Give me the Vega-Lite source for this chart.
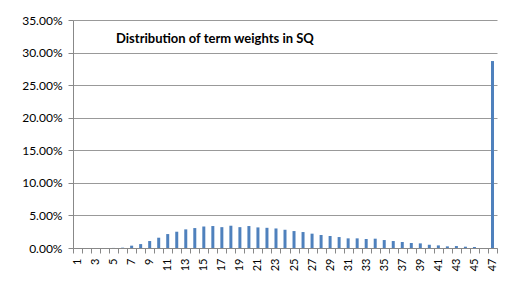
{
  "$schema": "https://vega.github.io/schema/vega-lite/v6.json",
  "width": 424,
  "height": 228,
  "autosize": {"type": "none"},
  "padding": {"left": 73, "top": 20, "right": 9, "bottom": 44},
  "background": "white",
  "title": {
    "text": "Distribution of term weights in SQ",
    "anchor": "start",
    "orient": "top",
    "frame": "group",
    "dx": 43,
    "offset": -32,
    "font": "Lato",
    "fontSize": 13,
    "fontWeight": "bold",
    "color": "#000000"
  },
  "data": {
    "values": [
      {"k": 1, "v": 0.0},
      {"k": 2, "v": 0.0},
      {"k": 3, "v": 0.0},
      {"k": 4, "v": 0.0},
      {"k": 5, "v": 0.0001},
      {"k": 6, "v": 0.0005},
      {"k": 7, "v": 0.0036},
      {"k": 8, "v": 0.006},
      {"k": 9, "v": 0.0107},
      {"k": 10, "v": 0.0158},
      {"k": 11, "v": 0.0214},
      {"k": 12, "v": 0.025},
      {"k": 13, "v": 0.0286},
      {"k": 14, "v": 0.0306},
      {"k": 15, "v": 0.033},
      {"k": 16, "v": 0.0337},
      {"k": 17, "v": 0.032},
      {"k": 18, "v": 0.0342},
      {"k": 19, "v": 0.032},
      {"k": 20, "v": 0.0337},
      {"k": 21, "v": 0.0316},
      {"k": 22, "v": 0.031},
      {"k": 23, "v": 0.03},
      {"k": 24, "v": 0.028},
      {"k": 25, "v": 0.026},
      {"k": 26, "v": 0.0245},
      {"k": 27, "v": 0.022},
      {"k": 28, "v": 0.02},
      {"k": 29, "v": 0.0184},
      {"k": 30, "v": 0.0168},
      {"k": 31, "v": 0.0148},
      {"k": 32, "v": 0.0148},
      {"k": 33, "v": 0.0138},
      {"k": 34, "v": 0.0143},
      {"k": 35, "v": 0.0122},
      {"k": 36, "v": 0.0107},
      {"k": 37, "v": 0.0092},
      {"k": 38, "v": 0.0077},
      {"k": 39, "v": 0.0071},
      {"k": 40, "v": 0.005},
      {"k": 41, "v": 0.004},
      {"k": 42, "v": 0.0025},
      {"k": 43, "v": 0.003},
      {"k": 44, "v": 0.002},
      {"k": 45, "v": 0.0015},
      {"k": 46, "v": 0.0},
      {"k": 47, "v": 0.287}
    ]
  },
  "mark": {"type": "bar", "color": "#4F81BD", "size": 3},
  "encoding": {
    "x": {
      "field": "k",
      "type": "ordinal",
      "sort": null,
      "title": null,
      "scale": {"paddingInner": 0, "paddingOuter": 0},
      "axis": {
        "tickBand": "extent",
        "labelAngle": -90,
        "labelOverlap": false,
        "labelExpr": "datum.value % 2 == 1 ? datum.label : ''",
        "labelFont": "Lato",
        "labelFontSize": 11,
        "labelColor": "#000000",
        "labelPadding": 5,
        "domainColor": "#888888",
        "tickColor": "#888888",
        "tickSize": 5,
        "grid": false
      }
    },
    "y": {
      "field": "v",
      "type": "quantitative",
      "title": null,
      "scale": {"domain": [0, 0.35], "nice": false},
      "axis": {
        "values": [0, 0.05, 0.1, 0.15, 0.2, 0.25, 0.3, 0.35],
        "format": ".2%",
        "labelFont": "Lato",
        "labelFontSize": 12,
        "labelColor": "#000000",
        "labelPadding": 6,
        "domainColor": "#888888",
        "tickColor": "#888888",
        "tickSize": 5,
        "grid": true,
        "gridColor": "#999999",
        "gridWidth": 1
      }
    }
  },
  "config": {"view": {"stroke": null}}
}
